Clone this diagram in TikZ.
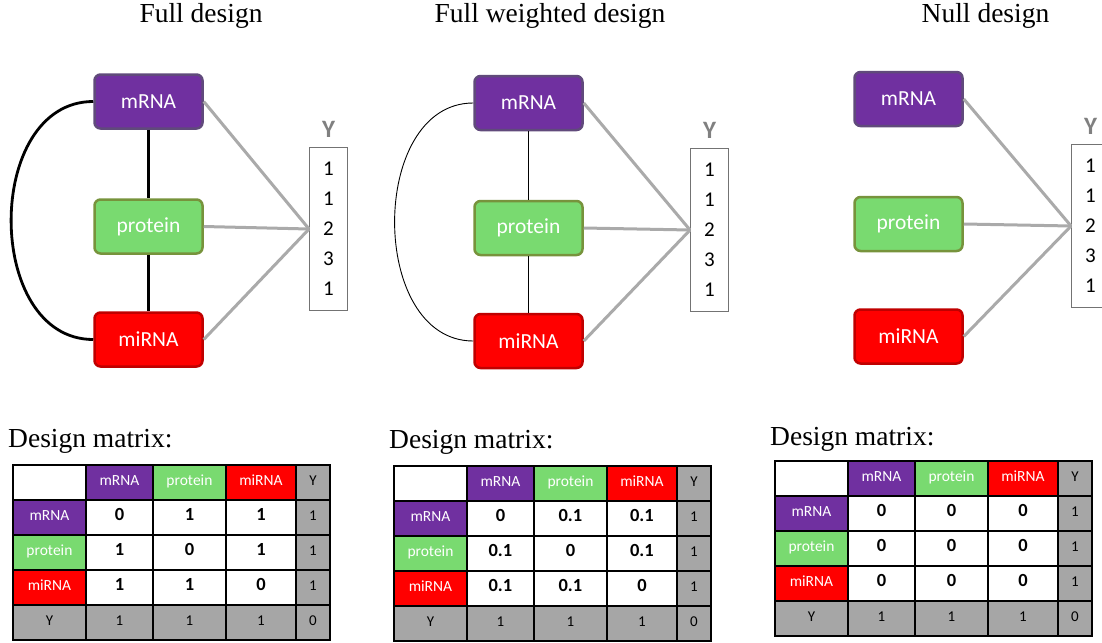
\documentclass[tikz,border=0pt]{standalone}
\usepackage{fontspec}
\setmainfont{Liberation Serif}
\newfontfamily\carlito{Carlito}
\usetikzlibrary{positioning,matrix}

\definecolor{mpurple}{RGB}{112,48,160}
\definecolor{mpurpleedge}{RGB}{96,74,123}
\definecolor{pgreen}{RGB}{121,218,112}
\definecolor{pgreenedge}{RGB}{119,147,60}
\definecolor{mred}{RGB}{255,0,0}
\definecolor{mrededge}{RGB}{192,0,0}
\definecolor{tgray}{RGB}{166,166,166}
\definecolor{linegray}{RGB}{170,170,170}
\definecolor{ygray}{RGB}{128,128,128}

\tikzset{
  rnabox/.style={draw,rounded corners=6pt,line width=2.5pt,minimum width=108pt,minimum height=54pt,
    text=white,font=\carlito\fontsize{21.5}{25}\selectfont},
  mrnabox/.style={rnabox,fill=mpurple,draw=mpurpleedge},
  protbox/.style={rnabox,fill=pgreen,draw=pgreenedge},
  mirbox/.style={rnabox,fill=mred,draw=mrededge},
  ybox/.style={draw=black!55,line width=0.9pt,minimum width=38pt,minimum height=163pt},
  ynum/.style={font=\carlito\fontsize{21}{25}\selectfont},
  ylabel/.style={text=ygray,inner sep=2pt,font=\carlito\bfseries\fontsize{25}{30}\selectfont},
  toy/.style={draw=linegray,line width=3pt},
  title/.style={anchor=base,inner sep=0pt,font=\fontsize{27.5}{33}\selectfont},
  dmlabel/.style={anchor=base west,inner sep=0pt,font=\fontsize{27.5}{33}\selectfont},
  dmatrix/.style={matrix of nodes,nodes in empty cells,inner sep=0pt,anchor=north west,
    column sep=-1.5pt,row sep=-1.5pt,
    nodes={draw,line width=1.5pt,anchor=center,minimum height=35pt,inner sep=0pt,
      text height=1.6ex,text depth=.3ex,font=\carlito\bfseries\fontsize{18.5}{22}\selectfont},
    column 1/.style={nodes={minimum width=73pt}},
    column 2/.style={nodes={minimum width=67pt}},
    column 3/.style={nodes={minimum width=73pt}},
    column 4/.style={nodes={minimum width=70pt}},
    column 5/.style={nodes={minimum width=34pt}}},
  cp/.style={fill=mpurple,text=white,font=\carlito\fontsize{15.5}{18}\selectfont},
  cg/.style={fill=pgreen,text=white,font=\carlito\fontsize{15.5}{18}\selectfont},
  cr/.style={fill=mred,text=white,font=\carlito\fontsize{15.5}{18}\selectfont},
  cy/.style={fill=tgray,font=\carlito\fontsize{15}{18}\selectfont}
}

\begin{document}
\begin{tikzpicture}[x=1pt,y=-1pt]
\useasboundingbox (0,0) rectangle (1102,642);

% titles
\node[title] (t1) at (201,23) {Full design};
\node[title] (t2) at (550,23) {Full weighted design};
\node[title] (t3) at (985.5,23) {Null design};

% full design
\node[mrnabox] (m1) at (148.5,101.5) {mRNA};
\node[protbox] (p1) at (148.5,226.5) {protein};
\node[mirbox] (r1) at (148.5,339.5) {miRNA};
\node[ybox] (y1) at (328.5,229) {};
\node[ylabel,above=7.5pt of y1] (yl1) {Y};
\draw[line width=2.8pt] (m1) -- (p1);
\draw[line width=2.8pt] (p1) -- (r1);
\draw[line width=2.8pt] (m1.west) to[out=180,in=180,looseness=1.18] (r1.west);
\foreach \b in {m1,p1,r1}
  \draw[toy] (\b.east) -- (y1.west);

% full weighted design
\node[mrnabox] (m2) at (528.5,103) {mRNA};
\node[protbox] (p2) at (528.5,228) {protein};
\node[mirbox] (r2) at (528.5,341) {miRNA};
\node[ybox] (y2) at (709.5,230) {};
\node[ylabel,above=7.5pt of y2] (yl2) {Y};
\draw[line width=0.9pt] (m2) -- (p2);
\draw[line width=0.9pt] (p2) -- (r2);
\draw[line width=0.9pt] (m2.west) to[out=180,in=180,looseness=1.13] (r2.west);
\foreach \b in {m2,p2,r2}
  \draw[toy] (\b.east) -- (y2.west);

% null design
\node[mrnabox] (m3) at (908.5,99) {mRNA};
\node[protbox] (p3) at (908.5,224) {protein};
\node[mirbox] (r3) at (908.5,336.5) {miRNA};
\node[ybox] (y3) at (1090.5,226) {};
\node[ylabel,above=7.5pt of y3] (yl3) {Y};
\foreach \b in {m3,p3,r3}
  \draw[toy] (\b.east) -- (y3.west);

% response values
\foreach \yb in {y1,y2,y3}
{
\foreach \v [count=\i] in {1,1,2,3,1}
  \node[ynum,yshift={8pt-30pt*\i}] at (\yb.north) {\v};
}

% design matrices
\node[dmlabel] (dl1) at (8,447) {Design matrix:};
\matrix (dm1) [dmatrix] at (12,464)
{
 & |[cp]| mRNA & |[cg]| protein & |[cr]| miRNA & |[cy]| Y \\
|[cp]| mRNA & 0 & 1 & 1 & |[cy]| 1 \\
|[cg]| protein & 1 & 0 & 1 & |[cy]| 1 \\
|[cr]| miRNA & 1 & 1 & 0 & |[cy]| 1 \\
|[cy]| Y & |[cy]| 1 & |[cy]| 1 & |[cy]| 1 & |[cy]| 0 \\
};

\node[dmlabel] (dl2) at (389,448) {Design matrix:};
\matrix (dm2) [dmatrix] at (393,465)
{
 & |[cp]| mRNA & |[cg]| protein & |[cr]| miRNA & |[cy]| Y \\
|[cp]| mRNA & 0 & 0.1 & 0.1 & |[cy]| 1 \\
|[cg]| protein & 0.1 & 0 & 0.1 & |[cy]| 1 \\
|[cr]| miRNA & 0.1 & 0.1 & 0 & |[cy]| 1 \\
|[cy]| Y & |[cy]| 1 & |[cy]| 1 & |[cy]| 1 & |[cy]| 0 \\
};

\node[dmlabel] (dl3) at (770,445) {Design matrix:};
\matrix (dm3) [dmatrix] at (774,460)
{
 & |[cp]| mRNA & |[cg]| protein & |[cr]| miRNA & |[cy]| Y \\
|[cp]| mRNA & 0 & 0 & 0 & |[cy]| 1 \\
|[cg]| protein & 0 & 0 & 0 & |[cy]| 1 \\
|[cr]| miRNA & 0 & 0 & 0 & |[cy]| 1 \\
|[cy]| Y & |[cy]| 1 & |[cy]| 1 & |[cy]| 1 & |[cy]| 0 \\
};
\end{tikzpicture}
\end{document}
